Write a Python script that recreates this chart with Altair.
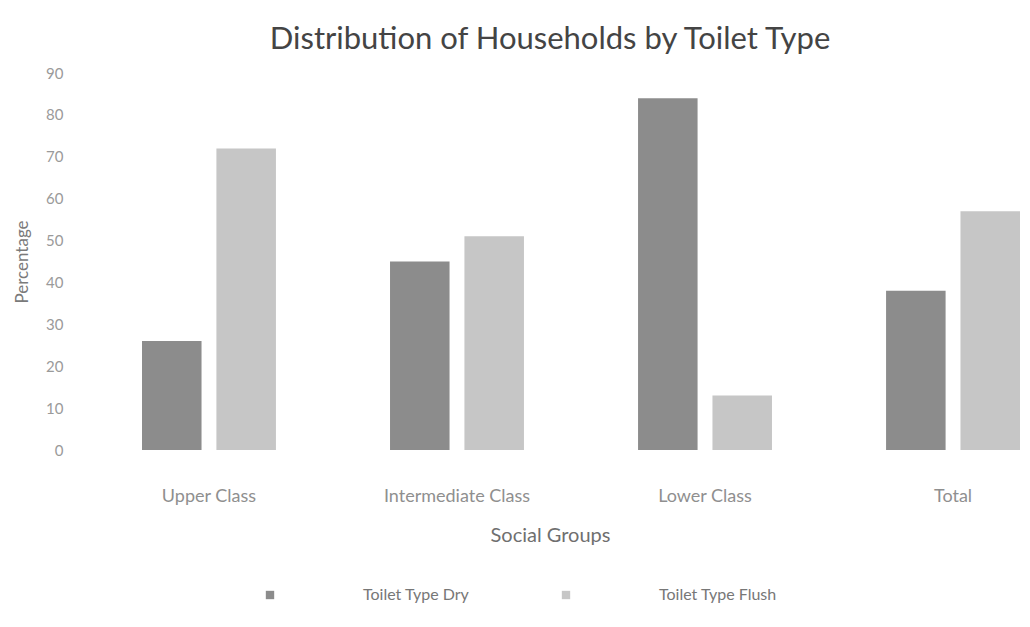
import altair as alt
import pandas as pd

groups = ["Upper Class", "Intermediate Class", "Lower Class", "Total"]
toilet_types = ["Toilet Type Dry", "Toilet Type Flush"]
dry = [26, 45, 84, 38]
flush = [72, 51, 13, 57]
colors = ["#8c8c8c", "#c6c6c6"]
y_ticks = [0, 10, 20, 30, 40, 50, 60, 70, 80, 90]

rows = []
for g, d, f in zip(groups, dry, flush):
    rows.append({"group": g, "type": toilet_types[0], "value": d})
    rows.append({"group": g, "type": toilet_types[1], "value": f})
df = pd.DataFrame(rows)

font = "Lato"

chart = alt.Chart(df).mark_bar().encode(
    x=alt.X(
        "group:N", sort=groups, title="Social Groups",
        scale=alt.Scale(paddingInner=0.46, paddingOuter=0.125, align=1),
        axis=alt.Axis(labelAngle=0, domain=False, ticks=False, grid=False,
                      labelPadding=37, titlePadding=20,
                      labelColor="#8f8f8f", titleColor="#6f6f6f",
                      labelFontSize=18, titleFontSize=20,
                      labelFont=font, titleFont=font, titleFontWeight="normal"),
    ),
    xOffset=alt.XOffset("type:N", sort=toilet_types,
                        scale=alt.Scale(paddingInner=0.2, paddingOuter=0)),
    y=alt.Y(
        "value:Q", title="Percentage",
        scale=alt.Scale(domain=[0, 90], nice=False),
        axis=alt.Axis(values=y_ticks, domain=False, ticks=False, grid=False,
                      labelPadding=17, titlePadding=14,
                      labelColor="#9a9a9a", titleColor="#7a7a7a",
                      labelFontSize=15, titleFontSize=17,
                      labelFont=font, titleFont=font, titleFontWeight="normal"),
    ),
    color=alt.Color(
        "type:N", sort=toilet_types,
        scale=alt.Scale(domain=toilet_types, range=colors),
        legend=alt.Legend(title=None, orient="none", legendX=182, legendY=514,
                          direction="horizontal", symbolType="square",
                          symbolSize=70, symbolStrokeWidth=0,
                          labelOffset=85, columnPadding=88,
                          labelFontSize=16, labelFont=font, labelColor="#777777"),
    ),
).properties(
    width=940, height=377,
    title=alt.TitleParams("Distribution of Households by Toilet Type",
                          fontSize=31, font=font, fontWeight="normal",
                          color="#444444", offset=10, anchor="middle"),
    autosize=alt.AutoSizeParams(type="none"),
    padding={"left": 72, "top": 65, "right": 2, "bottom": 160},
).configure_view(stroke=None)

chart.save("out.html", embed_options={"renderer": "svg", "actions": False})
